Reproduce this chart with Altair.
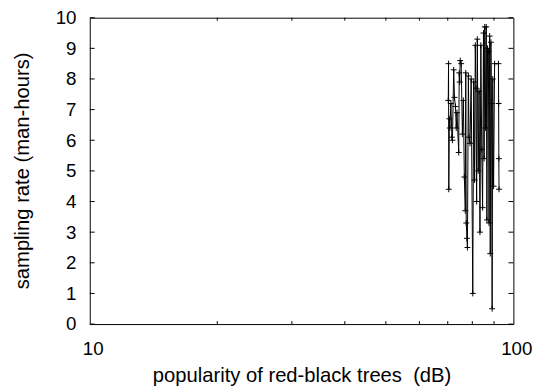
import altair as alt
import pandas as pd

# data (x: popularity in dB, log axis; y: sampling rate)
xs = [70.2, 70.3, 70.4, 70.6, 70.8, 71.2, 71.6, 71.8, 72.3, 72.6, 73.0, 73.3,
      73.6, 74.3, 74.5, 74.7, 74.9, 75.3, 75.8, 76.2, 76.6, 77.0, 77.2, 77.4,
      77.7, 77.9, 78.3, 78.6, 79.0, 79.5, 80.2, 80.6, 81.0, 81.3, 81.6, 81.9,
      82.2, 82.6, 83.0, 83.4, 83.8, 84.2, 84.6, 85.0, 85.3, 85.6, 86.0, 86.3,
      86.6, 86.9, 87.3, 87.6, 87.9, 88.2, 88.5, 88.8, 89.1, 89.4, 89.8, 90.3,
      92.2, 92.3, 92.4, 92.5]
ys = [7.3, 8.5, 4.4, 6.7, 6.4, 7.2, 6.1, 6.0, 8.3, 7.4, 7.1, 6.4,
      6.9, 5.6, 8.2, 7.9, 8.6, 8.5, 6.2, 7.3, 4.8, 3.7, 8.2, 3.3,
      2.8, 2.5, 8.1, 6.1, 5.9, 8.0, 1.0, 7.9, 4.7, 9.1, 7.7, 4.0,
      9.3, 5.0, 7.6, 3.0, 9.1, 5.7, 3.8, 9.5, 5.4, 9.7, 6.4, 9.7,
      3.4, 9.0, 8.9, 3.3, 9.4, 2.3, 9.2, 7.2, 0.5, 8.0, 4.5, 8.5,
      8.5, 7.2, 5.4, 4.4]

x_labels = [10, 100]
x_minor = [20, 30, 40, 50, 60, 70, 80, 90]
y_ticks = [0, 1, 2, 3, 4, 5, 6, 7, 8, 9, 10]

W, H = 430, 311
FONT = "Liberation Sans"

df = pd.DataFrame({"x": xs, "y": ys, "i": list(range(len(xs)))})
xt = pd.DataFrame({"x": x_minor})
yt = pd.DataFrame({"y": y_ticks})

xscale = alt.Scale(type="log", domain=[10, 100], nice=False)
yscale = alt.Scale(domain=[0, 10], nice=False)

xaxis = alt.Axis(values=x_labels, ticks=False, domain=False, grid=False,
                 labelPadding=16, labelOffset=3, labelFontSize=19, labelFont=FONT,
                 labelColor="black",
                 title="popularity of red-black trees\u00a0 (dB)", titleFont=FONT,
                 titleFontSize=20.5, titleFontWeight="normal", titleColor="black",
                 titleX=215, titleY=58, titleAlign="center", titleBaseline="alphabetic",
                 labelFlush=False, labelOverlap=False)
yaxis = alt.Axis(values=y_ticks, ticks=False, domain=False, grid=False,
                 labelPadding=14, labelFontSize=19, labelFont=FONT, labelColor="black",
                 title="sampling rate (man-hours)", titleFont=FONT,
                 titleFontSize=20.5, titleFontWeight="normal", titleColor="black",
                 titleX=-68, titleY=155, titleAngle=270, titleAlign="center",
                 titleBaseline="middle", labelOverlap=False)

X = alt.X("x:Q", scale=xscale, axis=xaxis)
Y = alt.Y("y:Q", scale=yscale, axis=yaxis)

base = alt.Chart(df)
line = base.mark_line(color="black", strokeWidth=1).encode(x=X, y=Y, order="i:Q")
pts = base.mark_point(shape="M-1,0L1,0M0,-1L0,1", filled=False, color="black",
                      strokeWidth=1, size=36, opacity=1).encode(x=X, y=Y)

ytl = alt.Chart(yt).mark_rule(color="black", strokeWidth=1).encode(
    y=Y, x=alt.value(0), x2=alt.value(5))
ytr = alt.Chart(yt).mark_rule(color="black", strokeWidth=1).encode(
    y=Y, x=alt.value(W - 5), x2=alt.value(W))
xtb = alt.Chart(xt).mark_rule(color="black", strokeWidth=1).encode(
    x=X, y=alt.value(H - 3), y2=alt.value(H))
xtt = alt.Chart(xt).mark_rule(color="black", strokeWidth=1).encode(
    x=X, y=alt.value(0), y2=alt.value(3))

chart = alt.layer(line, pts, ytl, ytr, xtb, xtt).properties(
    width=W, height=H,
    background="white",
    autosize=alt.AutoSizeParams(type="none"),
    padding={"left": 83, "top": 7, "right": 25, "bottom": 60},
).configure_view(stroke="black", strokeWidth=1)

chart.save("out.html", embed_options={"renderer": "svg", "actions": False})
